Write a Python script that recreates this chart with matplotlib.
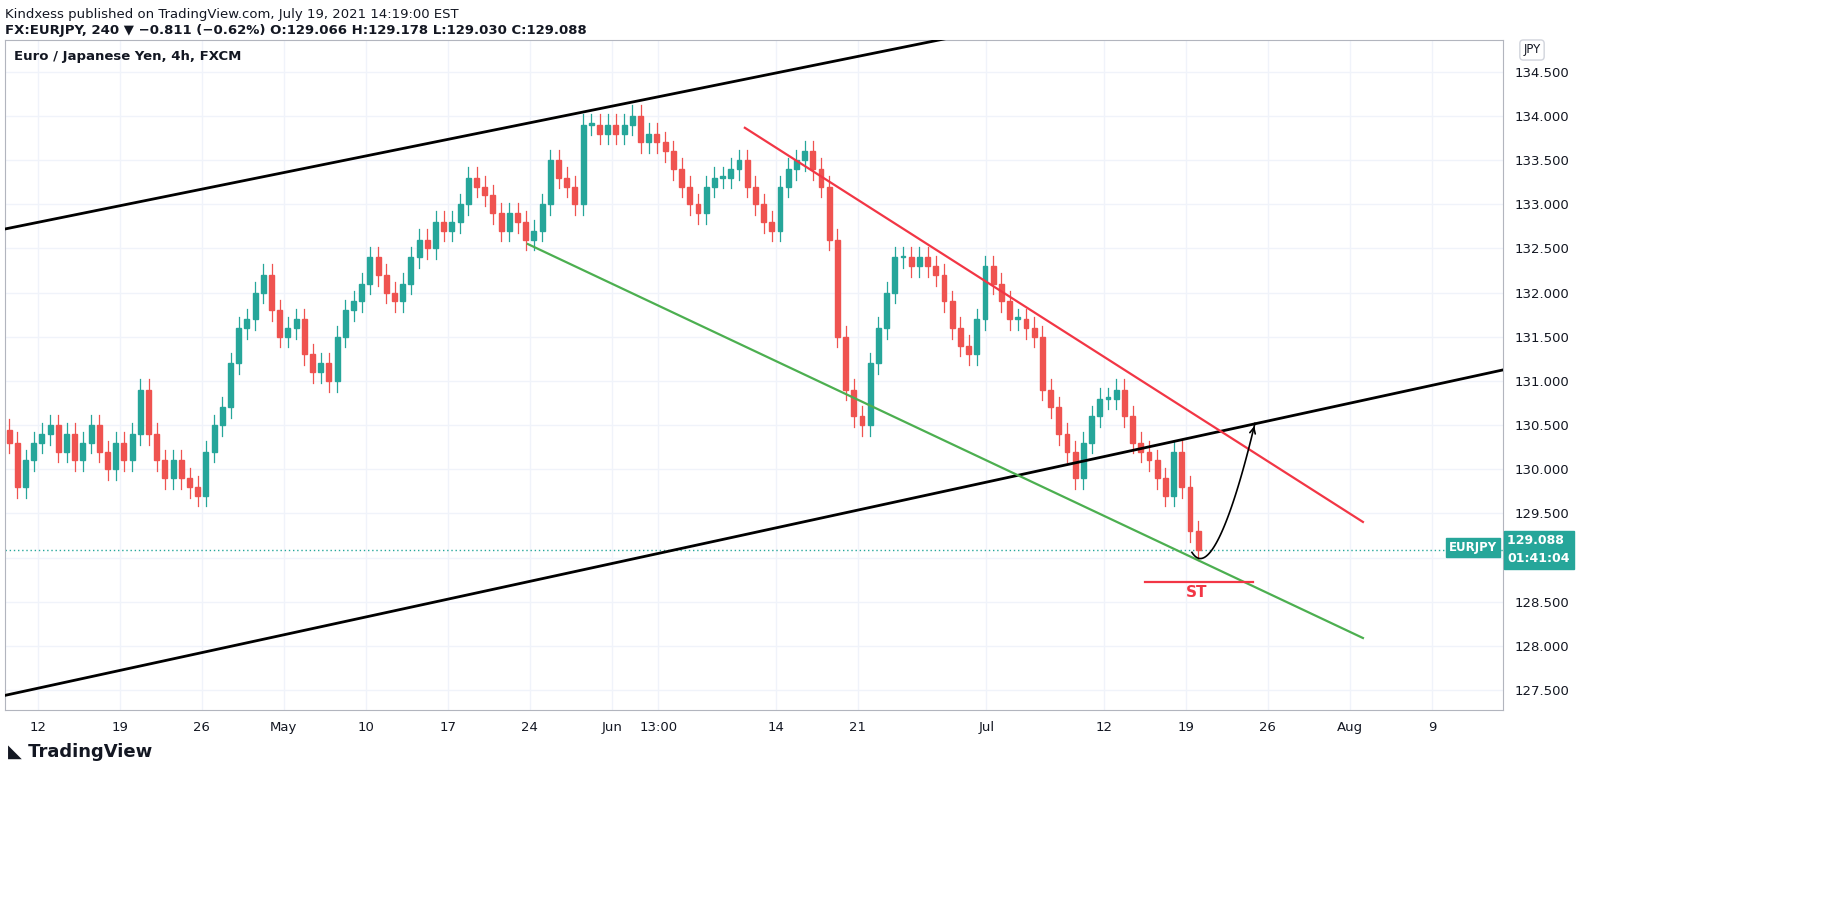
import matplotlib.pyplot as plt
from matplotlib.patches import Rectangle
import numpy as np

# half-day closes (each candle = 3 x 4h bars), starting Apr 8
closes = [130.3, 129.8, 130.1, 130.3,
          130.4, 130.5, 130.2, 130.4, 130.1, 130.3, 130.5, 130.2, 130.0, 130.3,
          130.1, 130.4, 130.9, 130.4, 130.1, 129.9, 130.1, 129.9, 129.8, 129.7,
          130.2, 130.5, 130.7, 131.2, 131.6, 131.7, 132.0, 132.2, 131.8, 131.5,
          131.6, 131.7, 131.3, 131.1, 131.2, 131.0, 131.5, 131.8, 131.9, 132.1,
          132.4, 132.2, 132.0, 131.9, 132.1, 132.4, 132.6, 132.5, 132.8, 132.7,
          132.8, 133.0, 133.3, 133.2, 133.1, 132.9, 132.7, 132.9, 132.8, 132.6,
          132.7, 133.0, 133.5, 133.3, 133.2, 133.0, 133.9, 133.9, 133.8, 133.9,
          133.8, 133.9, 134.0, 133.7, 133.8, 133.7, 133.6, 133.4, 133.2, 133.0,
          132.9, 133.2, 133.3, 133.3, 133.4, 133.5, 133.2, 133.0, 132.8, 132.7,
          133.2, 133.4, 133.5, 133.6, 133.4, 133.2, 132.6, 131.5, 130.9, 130.6,
          130.5, 131.2, 131.6, 132.0, 132.4, 132.4, 132.3, 132.4, 132.3, 132.2,
          131.9, 131.6, 131.4, 131.3, 131.7, 132.3, 132.1, 131.9, 131.7, 131.7,
          131.6, 131.5, 130.9, 130.7, 130.4, 130.2, 129.9, 130.3, 130.6, 130.8,
          130.8, 130.9, 130.6, 130.3, 130.2, 130.1, 129.9, 129.7, 130.2, 129.8,
          129.3, 129.088]
first_open = 130.45
wick = 0.12
last_price = 129.088

tick_bars = [0, 30, 60, 90, 120, 150, 180, 210, 227, 270, 300, 347, 390, 420, 450, 480, 510]
tick_labels = ["12", "19", "26", "May", "10", "17", "24", "Jun", "13:00", "14", "21", "Jul",
               "12", "19", "26", "Aug", "9"]
yticks = np.arange(127.5, 134.51, 0.5)

up, dn = "#26a69a", "#ef5350"

fig = plt.figure(figsize=(18.28, 8.97), dpi=100)
ax = fig.add_axes([5/1828, 1-710/897, 1498/1828, 670/897])
ax.set_xlim(-12, 536)
ax.set_ylim(127.275, 134.86)

opens = [first_open] + closes[:-1]
for i, (o, c) in enumerate(zip(opens, closes)):
    x = -12 + 3*i + 1.5
    col = up if c >= o else dn
    ax.plot([x, x], [min(o, c) - wick, max(o, c) + wick], color=col, lw=0.9, zorder=3)
    ax.add_patch(Rectangle((x - 0.9, min(o, c)), 1.8, max(abs(c - o), 0.02), color=col, zorder=3))

def bar(px):
    return (px - 38) / 82 * 30

# trend lines
ax.plot([bar(5), bar(950)], [132.72, 134.885], color="black", lw=2, zorder=4)
ax.plot([bar(5), bar(1503)], [127.44, 131.125], color="black", lw=2, zorder=4)
ax.plot([bar(745), bar(1363)], [133.866, 129.404], color="#f23645", lw=1.6, zorder=4)
ax.plot([bar(528), bar(1363)], [132.55, 128.09], color="#4caf50", lw=1.6, zorder=4)
ax.plot([bar(1145), bar(1253)], [128.72, 128.72], color="#f23645", lw=1.6, zorder=4)
ax.text(bar(1197), 128.6, "ST", color="#f23645", fontsize=11, fontweight="bold", ha="center", va="center")

# projected path arrow
t = np.linspace(0, 1, 50)
px = np.array([1192, 1212, 1240, 1255])
py = np.array([129.06, 128.7, 129.8, 130.52])
cx = (1-t)**3*px[0] + 3*(1-t)**2*t*px[1] + 3*(1-t)*t**2*px[2] + t**3*px[3]
cy = (1-t)**3*py[0] + 3*(1-t)**2*t*py[1] + 3*(1-t)*t**2*py[2] + t**3*py[3]
ax.plot(bar(cx), cy, color="black", lw=1.2, zorder=5)
ax.annotate("", xy=(bar(1255), 130.52), xytext=(bar(cx[-3]), cy[-3]),
            arrowprops=dict(arrowstyle="->", color="black", lw=1.2))

ax.axhline(last_price, color=up, lw=1, ls=(0, (1, 2)), zorder=2)

# grid and axes
for y in yticks:
    ax.axhline(y, color="#f0f3fa", lw=1, zorder=0)
for b in tick_bars:
    ax.axvline(b, color="#f0f3fa", lw=1, zorder=0)
ax.set_xticks(tick_bars)
ax.set_xticklabels(tick_labels, fontsize=9.5, color="#131722")
ax.set_yticks(yticks)
# 129.000 is hidden behind the last-price label
ax.set_yticklabels(["" if abs(v - 129.0) < 1e-6 else f"{v:.3f}" for v in yticks],
                   fontsize=9.5, color="#131722")
ax.yaxis.tick_right()
ax.tick_params(length=0, pad=8)
for s in ax.spines.values():
    s.set_color("#b2b5be")
    s.set_linewidth(0.8)

# price label
ax.text(1.003, last_price, "129.088 \n01:41:04", transform=ax.get_yaxis_transform(), ha="left", va="center",
        color="white", fontsize=9, fontweight="bold", linespacing=1.5,
        bbox=dict(boxstyle="square,pad=0.3", fc=up, ec=up))
ax.text(0.996, last_price + 0.03, "EURJPY", transform=ax.get_yaxis_transform(), ha="right", va="center",
        color="white", fontsize=8.5, fontweight="bold", bbox=dict(boxstyle="square,pad=0.25", fc=up, ec=up))

# header texts
fig.text(5/1828, 1-8/897, "Kindxess published on TradingView.com, July 19, 2021 14:19:00 EST",
         fontsize=9.5, va="top", color="#131722")
fig.text(5/1828, 1-24/897, "FX:EURJPY, 240 \u25bc \u22120.811 (\u22120.62%) O:129.066 H:129.178 L:129.030 C:129.088",
         fontsize=9.5, va="top", color="#131722", fontweight="bold")
ax.text(0.006, 0.985, "Euro / Japanese Yen, 4h, FXCM", transform=ax.transAxes, fontsize=9.5,
        va="top", color="#131722", fontweight="bold")
fig.text(1532/1828, 1-50/897, "JPY", fontsize=8.5, ha="center", va="center", color="#131722",
         bbox=dict(boxstyle="round,pad=0.3", fc="white", ec="#d1d4dc"))
fig.text(8/1828, 1-752/897, "\u25e3 TradingView", fontsize=13, fontweight="bold", va="center", color="#131722")

fig.savefig("out.png", dpi=100, facecolor="white")
